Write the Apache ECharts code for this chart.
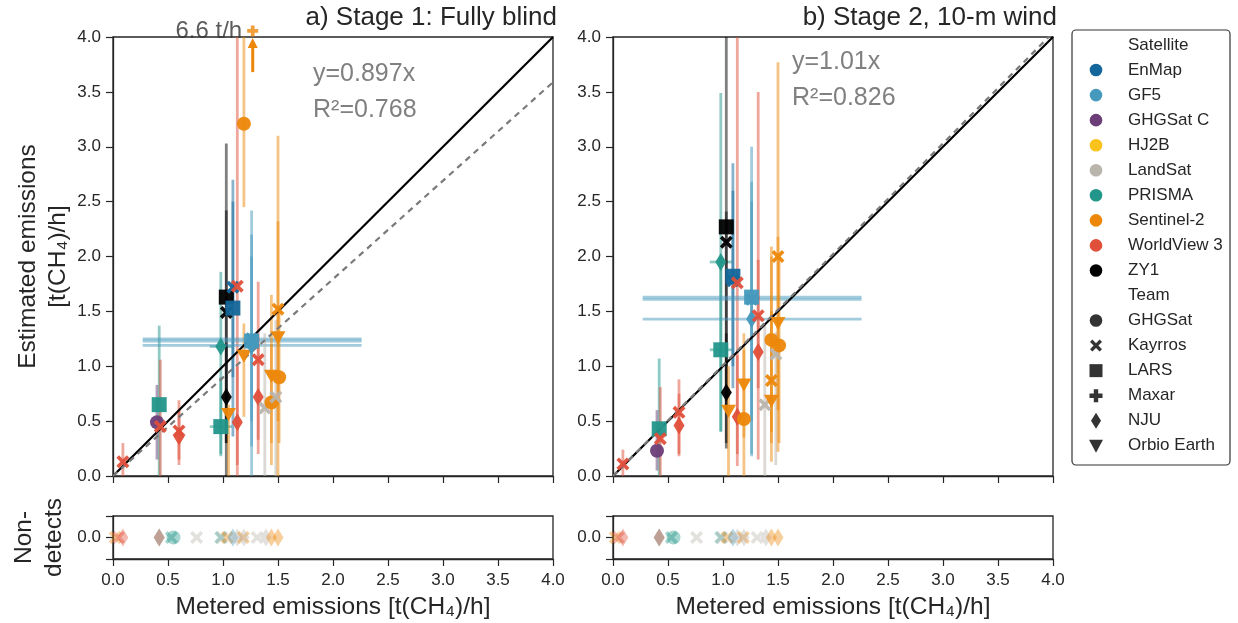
<!DOCTYPE html>
<html><head><meta charset="utf-8">
<script src="https://cdn.jsdelivr.net/npm/echarts@6/dist/echarts.min.js"></script>
<style>html,body{margin:0;padding:0;background:#fff}#c{width:1238px;height:623px}</style>
</head><body><div id="c"></div>
<script>
// ---------------- DATA ----------------
const satellites = ['EnMap','GF5','GHGSat C','HJ2B','LandSat','PRISMA','Sentinel-2','WorldView 3','ZY1'];
const teams = ['GHGSat','Kayrros','LARS','Maxar','NJU','Orbio Earth'];
// [metered, estimated, estLow, estHigh, satellite, team, meteredLow, meteredHigh]
const stage1 = [
 [0.09,0.13,0,0.30,'WorldView 3','Kayrros'],
 [0.40,0.49,0.15,0.83,'GHGSat C','GHGSat'],
 [0.42,0.65,0,1.37,'PRISMA','LARS'],
 [0.43,0.45,0,1.06,'WorldView 3','Kayrros'],
 [0.60,0.41,0.10,0.69,'WorldView 3','Kayrros'],
 [0.60,0.36,0.15,0.60,'WorldView 3','NJU'],
 [0.98,1.18,0.18,1.86,'PRISMA','NJU',0.88,1.08],
 [0.98,0.45,0.20,0.90,'PRISMA','LARS',0.88,1.08],
 [1.03,1.63,0,3.03,'ZY1','LARS'],
 [1.03,1.49,0.30,2.42,'ZY1','Kayrros'],
 [1.03,0.72,0.30,1.20,'ZY1','NJU'],
 [1.05,0.56,0,0.65,'Sentinel-2','Orbio Earth'],
 [1.09,1.72,0.90,2.50,'EnMap','Kayrros'],
 [1.09,1.53,0.36,2.70,'EnMap','LARS'],
 [1.13,1.73,0,4.5,'WorldView 3','Kayrros'],
 [1.13,0.49,0.10,1.00,'WorldView 3','NJU'],
 [1.19,3.21,2.45,4.5,'Sentinel-2','GHGSat'],
 [1.19,1.09,0.54,1.39,'Sentinel-2','Orbio Earth'],
 [1.26,1.25,0.50,2.00,'GF5','Kayrros',0.27,2.26],
 [1.26,1.19,0.27,2.20,'GF5','NJU',0.27,2.26],
 [1.26,1.23,0,2.42,'GF5','LARS',0.27,2.26],
 [1.32,1.06,0.33,1.77,'WorldView 3','Kayrros'],
 [1.32,0.72,0.20,1.20,'WorldView 3','NJU'],
 [1.38,0.62,0,1.30,'LandSat','Kayrros'],
 [1.44,0.91,0.30,1.65,'Sentinel-2','Orbio Earth'],
 [1.44,0.67,0.10,1.20,'Sentinel-2','GHGSat'],
 [1.48,0.72,0,1.42,'LandSat','Kayrros'],
 [1.50,1.26,0.50,2.32,'Sentinel-2','Orbio Earth'],
 [1.50,1.52,0,3.10,'Sentinel-2','Kayrros'],
 [1.51,0.90,0.30,1.50,'Sentinel-2','GHGSat']
];
const stage1Outlier = [1.27, 6.6, 'Sentinel-2', 'Maxar'];
const stage2 = [
 [0.09,0.11,0,0.24,'WorldView 3','Kayrros'],
 [0.40,0.23,0.05,0.60,'GHGSat C','GHGSat'],
 [0.42,0.43,0,1.07,'PRISMA','LARS'],
 [0.43,0.34,0,0.81,'WorldView 3','Kayrros'],
 [0.60,0.58,0.18,0.88,'WorldView 3','Kayrros'],
 [0.60,0.46,0.20,0.75,'WorldView 3','NJU'],
 [0.98,1.95,0.41,3.49,'PRISMA','NJU',0.88,1.08],
 [0.98,1.15,0.40,2.00,'PRISMA','LARS',0.88,1.08],
 [1.03,2.27,0.25,4.5,'ZY1','LARS'],
 [1.03,2.13,0.60,2.41,'ZY1','Kayrros'],
 [1.03,0.76,0.30,1.30,'ZY1','NJU'],
 [1.05,0.59,0,1.00,'Sentinel-2','Orbio Earth'],
 [1.09,1.78,1.00,2.60,'EnMap','Kayrros'],
 [1.09,1.82,0.80,2.85,'EnMap','LARS'],
 [1.13,1.76,0.09,4.5,'WorldView 3','Kayrros'],
 [1.13,0.54,0.20,1.10,'WorldView 3','NJU'],
 [1.19,0.52,0,1.15,'Sentinel-2','GHGSat'],
 [1.19,0.83,0.35,1.30,'Sentinel-2','Orbio Earth'],
 [1.26,1.61,0.50,2.50,'GF5','Kayrros',0.27,2.26],
 [1.26,1.43,0.20,2.68,'GF5','NJU',0.27,2.26],
 [1.26,1.63,0.18,3.00,'GF5','LARS',0.27,2.26],
 [1.32,1.46,0.80,3.50,'WorldView 3','Kayrros'],
 [1.32,1.13,0.15,1.97,'WorldView 3','NJU'],
 [1.38,0.65,0,1.38,'LandSat','Kayrros'],
 [1.44,0.68,0.13,2.09,'Sentinel-2','Orbio Earth'],
 [1.44,1.24,0.40,2.00,'Sentinel-2','GHGSat'],
 [1.44,0.87,0.30,1.50,'Sentinel-2','Kayrros'],
 [1.48,1.11,0.10,1.31,'LandSat','Kayrros'],
 [1.50,1.39,0.60,2.18,'Sentinel-2','Orbio Earth'],
 [1.50,2.00,0.22,3.77,'Sentinel-2','Kayrros'],
 [1.51,1.19,0.30,2.00,'Sentinel-2','GHGSat']
];
// [metered, satellite, team]
const nonDetects = [
 [0.02,'Sentinel-2','Kayrros'],[0.05,'WorldView 3','Kayrros'],[0.09,'WorldView 3','NJU'],
 [0.42,'PRISMA','NJU'],[0.42,'WorldView 3','NJU'],[0.53,'PRISMA','Kayrros'],[0.55,'PRISMA','GHGSat'],
 [0.76,'LandSat','Kayrros'],[0.98,'PRISMA','Kayrros'],[0.99,'LandSat','Kayrros'],
 [1.04,'Sentinel-2','Kayrros'],[1.09,'GF5','NJU'],[1.13,'LandSat','NJU'],
 [1.185,'Sentinel-2','Kayrros'],[1.19,'LandSat','NJU'],[1.31,'LandSat','Kayrros'],
 [1.39,'LandSat','NJU'],[1.44,'Sentinel-2','NJU'],[1.50,'Sentinel-2','NJU']
];
const stage1Fit = {slope:0.897, r2:0.768};
const stage2Fit = {slope:1.01, r2:0.826};

// ---------------- STYLE ----------------
const satColor = {'EnMap':'#14679a','GF5':'#4599bd','GHGSat C':'#6b3e78','HJ2B':'#f9c31c','LandSat':'#b9b4ac',
  'PRISMA':'#22968a','Sentinel-2':'#ec870a','WorldView 3':'#e04f3a','ZY1':'#000000'};
const XPTS = [[0,2],[2,0],[5,3],[8,0],[10,2],[7,5],[10,8],[8,10],[5,7],[2,10],[0,8],[3,5]];
const PPTS = [[3.3,0],[6.7,0],[6.7,3.3],[10,3.3],[10,6.7],[6.7,6.7],[6.7,10],[3.3,10],[3.3,6.7],[0,6.7],[0,3.3],[3.3,3.3]];
const toPath = pts => 'path://M' + pts.map(p=>p[0]+','+p[1]).join(' L') + ' Z';
const teamSym = {
 'GHGSat':{symbol:'circle',size:14,rot:0},
 'Kayrros':{symbol:toPath(XPTS),size:13,rot:0},
 'LARS':{symbol:'rect',size:[15,15],rot:0},
 'Maxar':{symbol:toPath(PPTS),size:12,rot:0},
 'NJU':{symbol:'diamond',size:[11,18],rot:0},
 'Orbio Earth':{symbol:'triangle',size:[15,13],rot:180}
};
const FONT = 'Liberation Sans, Arial, Helvetica, sans-serif';
const AX = '#262626';
const YMAX = 4;

function pointItem(r){
  const t = teamSym[r[5]];
  return {value:[r[0],r[1]], symbol:t.symbol, symbolSize:t.size, symbolRotate:t.rot,
    itemStyle:{color:satColor[r[4]], opacity:0.95}};
}
function ndItem(r){
  const t = teamSym[r[2]];
  return {value:[r[0],0], symbol:t.symbol, symbolSize:t.size, symbolRotate:t.rot,
    itemStyle:{color:satColor[r[1]], opacity:0.4}};
}
function errSeries(rows, gi){
  return {type:'custom', xAxisIndex:gi, yAxisIndex:gi, z:1, clip:true, silent:true,
    data: rows.map(r=>[r[0],r[1],r[2],r[3]]),
    renderItem:function(params, api){
      const r = rows[params.dataIndex];
      const col = satColor[r[4]];
      const children = [];
      const lo = Math.max(r[2],0), hi = Math.min(r[3], YMAX);
      const p1 = api.coord([r[0], lo]), p2 = api.coord([r[0], hi]);
      children.push({type:'line', shape:{x1:p1[0],y1:p1[1],x2:p2[0],y2:p2[1]},
        style:{stroke:col, lineWidth:2.8, opacity:0.5}});
      if (r[6] != null){
        const q1 = api.coord([r[6], r[1]]), q2 = api.coord([r[7], r[1]]);
        children.push({type:'line', shape:{x1:q1[0],y1:q1[1],x2:q2[0],y2:q2[1]},
          style:{stroke:col, lineWidth:2.8, opacity:0.5}});
      }
      return {type:'group', children};
    }};
}
function panelSeries(rows, fit, gi){
  return [
    errSeries(rows, gi),
    {type:'line', xAxisIndex:gi, yAxisIndex:gi, data:[[0,0],[4,4]], symbol:'none', z:2,
      lineStyle:{color:'#000', width:2.2}, silent:true},
    {type:'line', xAxisIndex:gi, yAxisIndex:gi, data:[[0,0],[4,4*fit.slope]], symbol:'none', z:2,
      lineStyle:{color:'#7a7a7a', width:2.2, type:[6,5]}, silent:true},
    {type:'scatter', xAxisIndex:gi, yAxisIndex:gi, z:3, data: rows.map(pointItem)}
  ];
}

const grids = [
  {left:113, top:37, width:440, height:439},
  {left:613, top:37, width:440, height:439},
  {left:113, top:516, width:440, height:44},
  {left:613, top:516, width:440, height:44}
].map(g=>Object.assign(g,{show:true, borderColor:AX, borderWidth:1.3, backgroundColor:'transparent'}));

const TICK = {show:true, length:7, lineStyle:{color:AX, width:1.2}};
const ALINE = {show:true, onZero:false, lineStyle:{color:AX, width:1.3}};
const NAMESTYLE = {fontSize:24.5, color:AX, fontFamily:FONT, lineHeight:30};

function xAx(gi, labels){
  const a = {gridIndex:gi, type:'value', min:0, max:4, interval:0.5,
    axisLine:ALINE, axisTick:TICK, splitLine:{show:false},
    axisLabel:{show:labels, fontSize:17, color:AX, fontFamily:FONT, margin:13, formatter:v=>v.toFixed(1)}};
  if (labels){
    a.name='Metered emissions [t(CH₄)/h]'; a.nameLocation='middle'; a.nameGap=33;
    a.nameTextStyle=NAMESTYLE;
  }
  return a;
}
function yAx(gi, name){
  const a = {gridIndex:gi, type:'value', min:0, max:4, interval:0.5,
    axisLine:ALINE, axisTick:TICK, splitLine:{show:false},
    axisLabel:{fontSize:17, color:AX, fontFamily:FONT, margin:12, formatter:v=>v.toFixed(1)}};
  if (name){ a.name=name; a.nameLocation='middle'; a.nameGap=40; a.nameTextStyle=NAMESTYLE; }
  return a;
}
function ndY(gi, name){
  const a = {gridIndex:gi, type:'value', min:-1, max:1, interval:1,
    axisLine:ALINE, axisTick:TICK, splitLine:{show:false},
    axisLabel:{fontSize:17, color:AX, fontFamily:FONT, margin:12, formatter:v=>v===0?'0.0':''}};
  if (name){ a.name=name; a.nameLocation='middle'; a.nameGap=44; a.nameTextStyle=NAMESTYLE; }
  return a;
}

const series = [].concat(
  panelSeries(stage1, stage1Fit, 0),
  panelSeries(stage2, stage2Fit, 1),
  [
   {type:'scatter', xAxisIndex:2, yAxisIndex:2, z:3, data: nonDetects.map(ndItem)},
   {type:'scatter', xAxisIndex:3, yAxisIndex:3, z:3, data: nonDetects.map(ndItem)},
   {type:'scatter', xAxisIndex:0, yAxisIndex:0, z:4, clip:false,
    data:[{value:[stage1Outlier[0], YMAX+0.055], symbol:teamSym[stage1Outlier[3]].symbol, symbolSize:11,
      itemStyle:{color:satColor[stage1Outlier[2]]}}],
    label:{show:true, position:'left', distance:5, formatter:()=>stage1Outlier[1]+' t/h',
      fontSize:24, color:'#333', fontFamily:FONT}},
   {type:'custom', xAxisIndex:0, yAxisIndex:0, z:4, silent:true, data:[[stage1Outlier[0]]],
    renderItem:function(params, api){
      const top = api.coord([stage1Outlier[0], YMAX]);
      const bot = api.coord([stage1Outlier[0], YMAX-0.32]);
      const c = satColor[stage1Outlier[2]];
      return {type:'group', children:[
        {type:'line', shape:{x1:bot[0],y1:bot[1],x2:top[0],y2:top[1]+8}, style:{stroke:c, lineWidth:3}},
        {type:'polygon', shape:{points:[[top[0],top[1]+1],[top[0]-5,top[1]+11],[top[0]+5,top[1]+11]]}, style:{fill:c}}
      ]};
    }}
  ]
);

// legend graphics
const LX = 1072, LY = 30;
const legendRows = [{h:'Satellite'}].concat(satellites.map(s=>({s}))).concat([{h:'Team'}]).concat(teams.map(t=>({t})));
const lg = [{type:'rect', shape:{x:LX, y:LY, width:158, height:435, r:4}, style:{fill:'#fff', stroke:'#333', lineWidth:1.2}, z:10}];
const scalePts = (pts, cx, cy, s) => pts.map(p=>[cx + (p[0]-5)*s, cy + (p[1]-5)*s]);
legendRows.forEach((row, i)=>{
  const cy = LY + 15 + i*25.05;
  const ix = 1096;
  const label = row.h || row.s || row.t;
  lg.push({type:'text', x:1128, y:cy, style:{text:label, fontSize:17, fill:'#262626', fontFamily:FONT, verticalAlign:'middle'}, z:11});
  if (row.s){
    lg.push({type:'circle', shape:{cx:ix, cy:cy, r:6.3}, style:{fill:satColor[row.s]}, z:11});
  } else if (row.t){
    let el;
    if (row.t==='GHGSat') el={type:'circle', shape:{cx:ix,cy:cy,r:6.3}};
    else if (row.t==='LARS') el={type:'rect', shape:{x:ix-6.5,y:cy-6.5,width:13,height:13}};
    else if (row.t==='NJU') el={type:'polygon', shape:{points:[[ix,cy-8],[ix+5,cy],[ix,cy+8],[ix-5,cy]]}};
    else if (row.t==='Orbio Earth') el={type:'polygon', shape:{points:[[ix-7,cy-6],[ix+7,cy-6],[ix,cy+7]]}};
    else if (row.t==='Kayrros') el={type:'polygon', shape:{points:scalePts(XPTS, ix, cy, 1.2)}};
    else el={type:'polygon', shape:{points:scalePts(PPTS, ix, cy, 1.3)}};
    el.style={fill:'#333'}; el.z=11; lg.push(el);
  }
});

const texts = [
  {type:'text', x:557, y:18, style:{text:'a) Stage 1: Fully blind', fontSize:26, fill:'#262626', fontFamily:FONT, align:'right', verticalAlign:'middle'}},
  {type:'text', x:1057, y:18, style:{text:'b) Stage 2, 10-m wind', fontSize:26, fill:'#262626', fontFamily:FONT, align:'right', verticalAlign:'middle'}},
  {type:'text', x:313, y:74, style:{text:'y='+stage1Fit.slope+'x', fontSize:25, fill:'#808080', fontFamily:FONT, verticalAlign:'middle'}},
  {type:'text', x:313, y:110, style:{text:'R²='+stage1Fit.r2, fontSize:25, fill:'#808080', fontFamily:FONT, verticalAlign:'middle'}},
  {type:'text', x:792, y:62, style:{text:'y='+stage2Fit.slope+'x', fontSize:25, fill:'#808080', fontFamily:FONT, verticalAlign:'middle'}},
  {type:'text', x:792, y:98, style:{text:'R²='+stage2Fit.r2, fontSize:25, fill:'#808080', fontFamily:FONT, verticalAlign:'middle'}}
];

const option = {
  animation:false,
  backgroundColor:'#fff',
  textStyle:{fontFamily:FONT},
  grid: grids,
  xAxis: [xAx(0,false), xAx(1,false), xAx(2,true), xAx(3,true)],
  yAxis: [yAx(0,'Estimated emissions\n[t(CH₄)/h]'), yAx(1,null), ndY(2,'Non-\ndetects'), ndY(3,null)],
  series: series,
  graphic: texts.concat(lg)
};
const chart = echarts.init(document.getElementById('c'), null, {renderer:'canvas'});
chart.setOption(option);
</script>
</body></html>
